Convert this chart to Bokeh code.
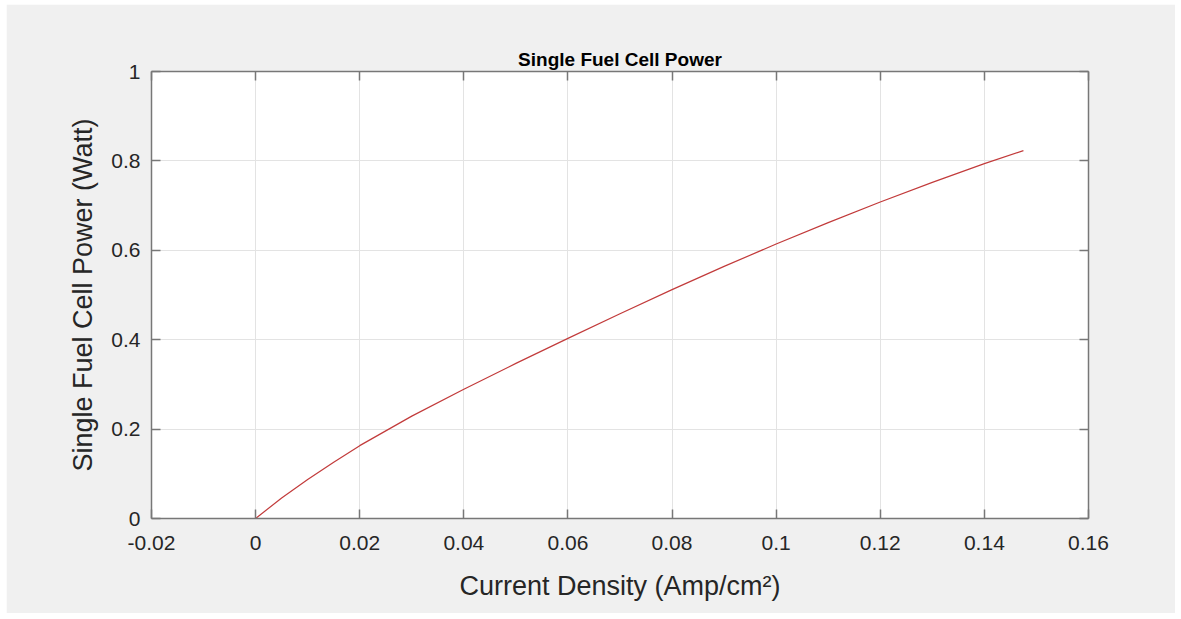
from bokeh.plotting import figure
from bokeh.models import LinearAxis, FixedTicker, Range1d, Title, CustomJSTickFormatter
from bokeh.embed import file_html
from bokeh.resources import INLINE

# ---- data ----
current_density = [0.0, 0.005, 0.01, 0.015, 0.02, 0.03, 0.04, 0.05, 0.06, 0.07,
                   0.08, 0.09, 0.10, 0.11, 0.12, 0.13, 0.14, 0.1475]
power = [0.0, 0.046, 0.087, 0.126, 0.163, 0.229, 0.289, 0.347, 0.403, 0.458,
         0.512, 0.564, 0.614, 0.662, 0.708, 0.752, 0.794, 0.823]

x_ticks = [-0.02, 0.0, 0.02, 0.04, 0.06, 0.08, 0.10, 0.12, 0.14, 0.16]
x_tick_labels = ["-0.02", "0", "0.02", "0.04", "0.06", "0.08", "0.1", "0.12", "0.14", "0.16"]
y_ticks = [0.0, 0.2, 0.4, 0.6, 0.8, 1.0]
y_tick_labels = ["0", "0.2", "0.4", "0.6", "0.8", "1"]

title_text = "Single Fuel Cell Power"
x_label = "Current Density (Amp/cm\u00b2)"
y_label = "Single Fuel Cell Power (Watt)"

FONT = "Liberation Sans"
AXIS_COLOR = "#777777"
TEXT_COLOR = "#262626"
GRID_COLOR = "#e3e3e3"

p = figure(width=1169, height=609, output_backend="svg", toolbar_location=None,
           x_range=Range1d(-0.02, 0.16), y_range=Range1d(0, 1),
           min_border_left=145, min_border_right=87, min_border_top=67, min_border_bottom=95)
p.margin = (4, 6, 6, 6)
p.border_fill_color = "#f0f0f0"
p.background_fill_color = "white"
p.outline_line_color = None

fmt = CustomJSTickFormatter(code="""
    let s = tick.toFixed(2);
    if (s.indexOf('.') >= 0) { s = s.replace(/0+$/, '').replace(/\\.$/, ''); }
    if (s === '-0') s = '0';
    return s;
""")

p.line(current_density, power, line_color="#c23b3b", line_width=1.2)

# bottom axis
xa = p.xaxis[0]
xa.ticker = FixedTicker(ticks=x_ticks)
xa.formatter = fmt
xa.major_label_overrides = dict(zip(x_ticks, x_tick_labels))
xa.axis_label = x_label
# left axis
ya = p.yaxis[0]
ya.ticker = FixedTicker(ticks=y_ticks)
ya.formatter = fmt
ya.major_label_overrides = dict(zip(y_ticks, y_tick_labels))
ya.axis_label = y_label

for ax in (xa, ya):
    ax.axis_line_color = AXIS_COLOR
    ax.axis_line_width = 1.5
    ax.major_tick_line_color = AXIS_COLOR
    ax.major_tick_line_width = 1.5
    ax.major_tick_in = 9
    ax.major_tick_out = 0
    ax.minor_tick_line_color = None
    ax.major_label_text_font = FONT
    ax.major_label_text_font_size = "21px"
    ax.major_label_text_color = TEXT_COLOR
    ax.axis_label_text_font = FONT
    ax.axis_label_text_font_size = "27px"
    ax.axis_label_text_font_style = "normal"
    ax.axis_label_text_color = TEXT_COLOR

xa.major_label_standoff = 17
xa.axis_label_standoff = 18
ya.major_label_standoff = 11
ya.axis_label_standoff = 10

# top and right box axes (ticks only, no labels)
top = LinearAxis(ticker=FixedTicker(ticks=x_ticks), major_label_text_color=None)
right = LinearAxis(ticker=FixedTicker(ticks=y_ticks), major_label_text_color=None)
for ax in (top, right):
    ax.axis_line_color = AXIS_COLOR
    ax.axis_line_width = 1.5
    ax.major_tick_line_color = AXIS_COLOR
    ax.major_tick_line_width = 1.5
    ax.major_tick_in = 9
    ax.major_tick_out = 0
    ax.minor_tick_line_color = None
    ax.major_label_standoff = 0
p.add_layout(top, "above")
p.add_layout(right, "right")

p.xgrid.ticker = FixedTicker(ticks=x_ticks)
p.ygrid.ticker = FixedTicker(ticks=y_ticks)
p.xgrid.grid_line_color = GRID_COLOR
p.ygrid.grid_line_color = GRID_COLOR

p.title = Title(text=title_text, align="center", text_font=FONT, text_font_size="19px",
                text_font_style="bold", text_color="black", standoff=3)

open("out.html", "w").write(file_html(p, INLINE))
